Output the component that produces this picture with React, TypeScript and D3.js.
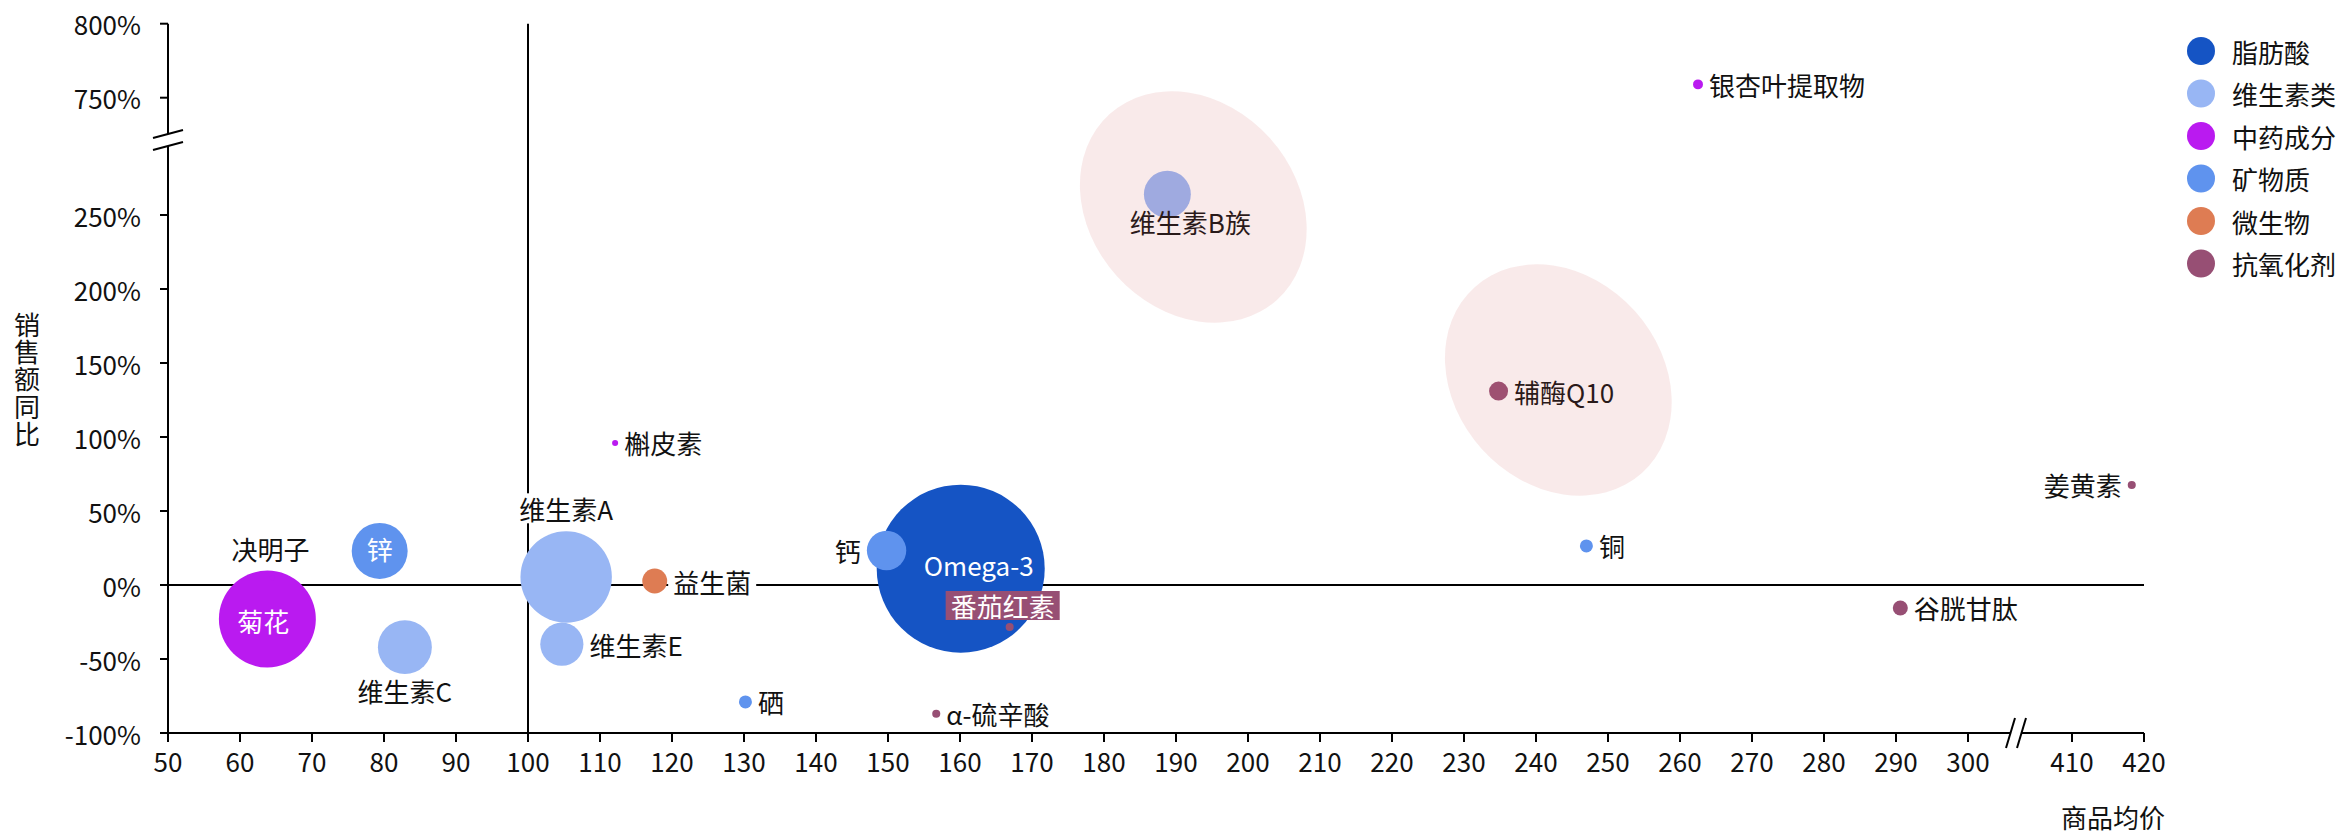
import React, { useEffect, useRef } from 'react';
import * as d3 from 'd3';

const W = 2341;
const H = 835;

const categories = ['脂肪酸', '维生素类', '中药成分', '矿物质', '微生物', '抗氧化剂'];
const categoryColors = ['#1554C4', '#98B6F4', '#BA1AF0', '#5F93EE', '#DE7C53', '#974F74'];

const names = ['Omega-3', '菊花', '维生素A', '锌', '维生素C', '维生素B族', '维生素E', '钙', '益生菌', '辅酶Q10', '谷胱甘肽', '铜', '硒', '银杏叶提取物', '番茄红素', 'α-硫辛酸', '姜黄素', '决明子', '槲皮素'];
const itemCategory = ['脂肪酸', '中药成分', '维生素类', '矿物质', '维生素类', '维生素类', '维生素类', '矿物质', '微生物', '抗氧化剂', '抗氧化剂', '矿物质', '矿物质', '中药成分', '抗氧化剂', '抗氧化剂', '抗氧化剂', '中药成分', '中药成分'];
const avgPrice = [160.1, 63.8, 105.3, 79.4, 82.9, 188.8, 104.7, 149.8, 117.6, 234.8, 290.6, 247.0, 130.2, 262.5, 166.9, 156.7, 418.3, 64.5, 112.1];
const salesYoY = [11, -23, 5.4, 23, -42, 264, -40, 23.3, 2.7, 131, -15.5, 26.4, -79, 759, -28.4, -87, 67.6, 5, 96];
const salesAmount = [1000, 333, 296, 111, 103, 78, 66, 55, 22, 12.8, 8, 6, 6, 3.5, 2.3, 2.3, 2.3, 1, 1.3];

const labelPlacement = ['inside', 'inside', 'top', 'inside', 'bottom', 'bottom', 'right', 'left', 'right', 'right', 'right', 'right', 'right', 'right', 'top', 'right', 'left', 'top', 'right'];
const labelShift: [number, number][] = [[18, -4], [-4, 1], [0, -4], [0, -2], [0, -3], [23, -15], [0, 0], [0, 0], [0, 0], [0, 0], [0, 0], [0, 0], [0, 0], [0, 0], [-7, 1.5], [0, 0], [0, 0], [-2, -7], [0, 0]];
const labelStyle = ['plain', 'plain', 'box', 'plain', 'box', 'plain', 'box', 'box', 'box', 'box', 'box', 'box', 'box', 'box', 'highlight', 'box', 'box', 'box', 'box'];

const xTicksLow = [50, 60, 70, 80, 90, 100, 110, 120, 130, 140, 150, 160, 170, 180, 190, 200, 210, 220, 230, 240, 250, 260, 270, 280, 290, 300];
const xTicksHigh = [410, 420];
const yTicksLow = [-100, -50, 0, 50, 100, 150, 200, 250];
const yTicksHigh = [750, 800];

const refPrice = 100;
const refYoY = 0;

const zoneCenters = [
  { price: 192.4, yoy: 255.4 },
  { price: 243.1, yoy: 138.5 },
];

export default function App() {
  const ref = useRef<SVGSVGElement>(null);

  useEffect(() => {
    const svg = d3.select(ref.current);
    svg.selectAll('*').remove();
    const font = "'Noto Sans CJK SC', 'Noto Sans', sans-serif";
    const fs = 26;
    const ink = '#000';
    const textInk = '#111';

    const xLow = d3.scaleLinear().domain([50, 300]).range([168, 1968]);
    const xHigh = d3.scaleLinear().domain([410, 420]).range([2072, 2144]);
    const yLow = d3.scaleLinear().domain([-100, 250]).range([733, 215]);
    const yHigh = d3.scaleLinear().domain([750, 800]).range([97.7, 23.7]);
    const X = (v: number) => (v > 350 ? xHigh(v) : xLow(v));
    const Y = (v: number) => (v > 500 ? yHigh(v) : yLow(v));
    const R = d3.scaleSqrt().domain([0, d3.max(salesAmount) as number]).range([0, 84]);
    const color = d3.scaleOrdinal<string, string>().domain(categories).range(categoryColors);

    const axisG = svg.append('g');
    const xAxisY = yLow(-100);
    const yAxisX = xLow(50);
    const xBreak = 2016;
    const yBreak = 140;

    // x axis line with break
    axisG.append('line').attr('x1', yAxisX).attr('x2', xBreak - 6).attr('y1', xAxisY).attr('y2', xAxisY).attr('stroke', ink).attr('stroke-width', 2);
    axisG.append('line').attr('x1', xBreak + 6).attr('x2', xHigh(420)).attr('y1', xAxisY).attr('y2', xAxisY).attr('stroke', ink).attr('stroke-width', 2);
    [-5.5, 5.5].forEach((d) => {
      axisG.append('line')
        .attr('x1', xBreak + d - 4.5).attr('y1', xAxisY + 15)
        .attr('x2', xBreak + d + 4.5).attr('y2', xAxisY - 15)
        .attr('stroke', ink).attr('stroke-width', 2);
    });

    // y axis with break
    axisG.append('line').attr('x1', yAxisX).attr('x2', yAxisX).attr('y1', xAxisY + 1).attr('y2', yBreak + 6).attr('stroke', ink).attr('stroke-width', 2);
    axisG.append('line').attr('x1', yAxisX).attr('x2', yAxisX).attr('y1', yBreak - 6).attr('y2', yHigh(800)).attr('stroke', ink).attr('stroke-width', 2);
    [-6, 6].forEach((d) => {
      axisG.append('line')
        .attr('x1', yAxisX - 15).attr('y1', yBreak + d + 4)
        .attr('x2', yAxisX + 15).attr('y2', yBreak + d - 4)
        .attr('stroke', ink).attr('stroke-width', 2);
    });

    // x ticks
    const xTicks = [...xTicksLow, ...xTicksHigh];
    xTicks.forEach((t) => {
      const x = X(t);
      axisG.append('line').attr('x1', x).attr('x2', x).attr('y1', xAxisY).attr('y2', xAxisY + 9).attr('stroke', ink).attr('stroke-width', 2);
      axisG.append('text').attr('x', x).attr('y', xAxisY + 27).attr('text-anchor', 'middle').attr('dominant-baseline', 'central')
        .attr('font-family', font).attr('font-size', fs).attr('fill', textInk).text(String(t));
    });

    // y ticks
    const yTicks = [...yTicksLow, ...yTicksHigh];
    yTicks.forEach((t) => {
      const y = Y(t);
      axisG.append('line').attr('x1', yAxisX - 8).attr('x2', yAxisX).attr('y1', y).attr('y2', y).attr('stroke', ink).attr('stroke-width', 2);
      axisG.append('text').attr('x', 141).attr('y', y).attr('text-anchor', 'end').attr('dominant-baseline', 'central')
        .attr('font-family', font).attr('font-size', fs).attr('fill', textInk).text(`${t}%`);
    });

    // reference lines
    axisG.append('line').attr('x1', X(refPrice)).attr('x2', X(refPrice)).attr('y1', yHigh(800)).attr('y2', xAxisY).attr('stroke', ink).attr('stroke-width', 2);
    axisG.append('line').attr('x1', yAxisX).attr('x2', xHigh(420)).attr('y1', Y(refYoY)).attr('y2', Y(refYoY)).attr('stroke', ink).attr('stroke-width', 2);

    // axis titles
    axisG.append('text')
      .attr('x', 27).attr('y', 380)
      .attr('text-anchor', 'middle')
      .style('writing-mode', 'vertical-rl')
      .style('text-orientation', 'upright')
      .style('letter-spacing', '1.3px')
      .attr('font-family', font).attr('font-size', fs).attr('fill', textInk)
      .text('销售额同比');
    axisG.append('text').attr('x', 2165).attr('y', 816).attr('text-anchor', 'end').attr('dominant-baseline', 'central')
      .attr('font-family', font).attr('font-size', fs).attr('fill', textInk).text('商品均价');

    // bubbles
    const items = names.map((n, i) => ({
      name: n,
      cat: itemCategory[i],
      cx: X(avgPrice[i]),
      cy: Y(salesYoY[i]),
      r: R(salesAmount[i]),
      pos: labelPlacement[i],
      shift: labelShift[i],
      style: labelStyle[i],
    }));
    const order = items.slice().sort((a, b) => b.r - a.r);
    const bubbleG = svg.append('g');
    order.forEach((d) => {
      bubbleG.append('circle').attr('cx', d.cx).attr('cy', d.cy).attr('r', d.r).attr('fill', color(d.cat));
    });

    // labels
    const labelG = svg.append('g');
    const gap = 6;
    items.forEach((d) => {
      let x = d.cx, y = d.cy, anchor = 'middle', fill = textInk;
      if (d.pos === 'right') { x = d.cx + d.r + gap; anchor = 'start'; }
      else if (d.pos === 'left') { x = d.cx - d.r - gap; anchor = 'end'; }
      else if (d.pos === 'top') { y = d.cy - d.r - gap - fs / 2; }
      else if (d.pos === 'bottom') { y = d.cy + d.r + gap + fs / 2; }
      else { fill = '#fff'; }
      x += d.shift[0];
      y += d.shift[1];
      if (d.style === 'highlight') fill = '#fff';
      const grp = labelG.append('g');
      const txt = grp.append('text').attr('x', x).attr('y', y).attr('text-anchor', anchor).attr('dominant-baseline', 'central')
        .attr('font-family', font).attr('font-size', fs).attr('fill', fill).text(d.name);
      if (d.style === 'box' || d.style === 'highlight') {
        const bb = (txt.node() as SVGTextElement).getBBox();
        const h = d.style === 'highlight' ? 29 : 30;
        grp.insert('rect', 'text')
          .attr('x', bb.x - 5).attr('y', y - h / 2).attr('width', bb.width + 10).attr('height', h)
          .attr('fill', d.style === 'highlight' ? color(d.cat) : '#fff');
      }
    });

    // highlight zones
    const zoneG = svg.append('g');
    zoneCenters.forEach((z) => {
      zoneG.append('ellipse')
        .attr('cx', 0).attr('cy', 0).attr('rx', 125).attr('ry', 103)
        .attr('transform', `translate(${X(z.price)},${Y(z.yoy)}) rotate(48)`)
        .attr('fill', 'indianred').attr('fill-opacity', 0.13);
    });

    // legend
    const legendG = svg.append('g');
    categories.forEach((c, i) => {
      const y = 51 + i * 42.5;
      legendG.append('circle').attr('cx', 2201).attr('cy', y).attr('r', 14).attr('fill', color(c));
      legendG.append('text').attr('x', 2232).attr('y', y).attr('dominant-baseline', 'central')
        .attr('font-family', font).attr('font-size', fs).attr('fill', textInk).text(c);
    });
  }, []);

  return (
    <svg
      ref={ref}
      width={W}
      height={H}
      viewBox={`0 0 ${W} ${H}`}
      style={{ position: 'absolute', left: 0, top: 0, background: '#fff' }}
    />
  );
}
